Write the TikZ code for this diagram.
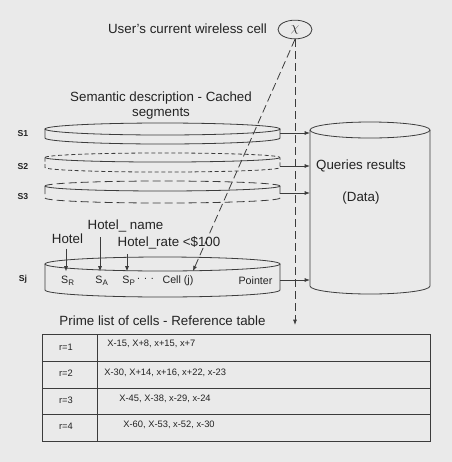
\documentclass[tikz,border=0pt]{standalone}
\usepackage{fontspec}
\setmainfont{Liberation Sans}
\usetikzlibrary{shapes.geometric,arrows.meta}

\definecolor{scanbg}{RGB}{234, 234, 234}
\definecolor{scanink}{RGB}{60, 60, 60}
\definecolor{scantext}{RGB}{35, 35, 35}

\begin{document}
\begin{tikzpicture}[x=0.75pt, y=-0.75pt, line width=0.6pt, color=scanink, text=scantext,
    tip/.style={-{Latex[length=4pt, width=3pt]}},
    longdash/.style={dash pattern=on 6pt off 3pt},
    shortdash/.style={dash pattern=on 3pt off 2pt},
    big/.style={font=\fontsize{10}{11.3}\selectfont},
    mid/.style={font=\fontsize{8}{9}\selectfont},
    small/.style={font=\fontsize{7}{8}\selectfont},
    seglbl/.style={font=\bfseries\fontsize{6.5}{7}\selectfont}]
        \fill[scanbg] (0,0) rectangle (452,462);
        % wireless cell
        \node[draw, ellipse, inner sep=0pt, minimum width=25.5pt, minimum height=14pt] (cell) at (295,29.5) {$\chi$};
        \node[big] (usercell) at (187.5,29) {User's current wireless cell};
        \node[big, align=center] (semantic) at (161,105.5) {Semantic description - Cached\\segments};
        % cached segments
        \draw (162.5,129) ellipse [x radius=88.125pt, y radius=4.5pt];
        \draw (45,129) -- (45,138) arc[start angle=180, end angle=360, x radius=88.125pt, y radius=4.5pt] -- (280,129);
        \draw[shortdash] (45,157.5) arc[start angle=180, end angle=0, x radius=88.125pt, y radius=3.4pt];
        \draw (45,157.5) arc[start angle=180, end angle=360, x radius=88.125pt, y radius=3.4pt];
        \draw[shortdash] (45,157.5) -- (45,167.5) arc[start angle=180, end angle=360, x radius=88.125pt, y radius=3.4pt] -- (280,157.5);
        \draw[longdash] (45,186) arc[start angle=180, end angle=0, x radius=88.125pt, y radius=3.75pt];
        \draw (45,186) arc[start angle=180, end angle=360, x radius=88.125pt, y radius=3.75pt];
        \draw[longdash] (45,186) -- (45,198) arc[start angle=180, end angle=360, x radius=88.125pt, y radius=3.75pt] -- (280,186);
        \draw (162.5,264) ellipse [x radius=88.125pt, y radius=5.25pt];
        \draw (45,264) -- (45,290) arc[start angle=180, end angle=360, x radius=88.125pt, y radius=5.25pt] -- (280,264);
        \node[seglbl] (s1) at (23,134) {S1};
        \node[seglbl] (s2) at (23,167) {S2};
        \node[seglbl] (s3) at (23,197) {S3};
        \node[seglbl] (sj) at (23,279) {Sj};
        % data store
        \draw (370,130) ellipse [x radius=45pt, y radius=6pt];
        \draw (310,130) -- (310,286) arc[start angle=180, end angle=360, x radius=45pt, y radius=6pt] -- (430,130);
        \coordinate (dbleft) at (310,200);
        \node[big] (queries) at (361,166) {Queries results};
        \node[big] (data) at (361,198) {(Data)};
        \coordinate (s1out) at (280,133);
        \coordinate (s2out) at (280,166);
        \coordinate (s3out) at (280,193);
        \coordinate (sjout) at (280,280);
        \draw[tip] (s1out) -- (s1out -| dbleft);
        \draw[tip] (s2out) -- (s2out -| dbleft);
        \draw[tip] (s3out) -- (s3out -| dbleft);
        \draw[tip] (sjout) -- (sjout -| dbleft);
        % segment Sj content
        \node[big] (hotel) at (67.5,239) {Hotel};
        \node[big] (hotelname) at (125.5,226) {Hotel\_ name};
        \node[big] (hotelrate) at (169,243) {Hotel\_rate <\$100};
        \node[mid] (sr) at (68,281) {S\textsubscript{R}};
        \node[mid] (sa) at (102,281) {S\textsubscript{A}};
        \node[mid] (sp) at (129,281) {S\textsubscript{P}};
        \node[mid] (dots) at (145.5,279) {. . .};
        \node[mid] (cellj) at (178,281) {Cell (j)};
        \node[mid] (pointer) at (255.5,281) {Pointer};
        \draw[tip] ([xshift=-1.5pt]sr.north |- hotel.south) -- ([xshift=-1.5pt]sr.north);
        \draw[tip] ([xshift=-1.5pt]sa.north |- hotelname.south) -- ([xshift=-1.5pt]sa.north);
        \draw[tip] ([xshift=-1.5pt]sp.north |- hotelrate.south) -- ([xshift=-1.5pt]sp.north);
        \draw[longdash, tip] (cell.south) -- ([xshift=-4pt]cellj.north east);
        % reference table
        \coordinate (refin) at (295,325);
        \draw[longdash, tip] (cell.south) -- (refin);
        \node[big] (prime) at (162.5,321) {Prime list of cells - Reference table};
        \draw (42,334) rectangle (430,441);
        \draw (97,334) -- (97,441);
        \draw (42,361) -- (430,361);
        \draw (42,388) -- (430,388);
        \draw (42,414) -- (430,414);
        \node[small] (r1) at (66,347) {r=1};
        \node[small] (r2) at (66,373) {r=2};
        \node[small] (r3) at (66,400) {r=3};
        \node[small] (r4) at (66,426) {r=4};
        \node[small, anchor=west, inner sep=0pt] (c1) at (107,344) {X-15, X+8, x+15, x+7};
        \node[small, anchor=west, inner sep=0pt] (c2) at (104,373) {X-30, X+14, x+16, x+22, x-23};
        \node[small, anchor=west, inner sep=0pt] (c3) at (119,399) {X-45, X-38, x-29, x-24};
        \node[small, anchor=west, inner sep=0pt] (c4) at (123,425) {X-60, X-53, x-52, x-30};
      \end{tikzpicture}
\end{document}
